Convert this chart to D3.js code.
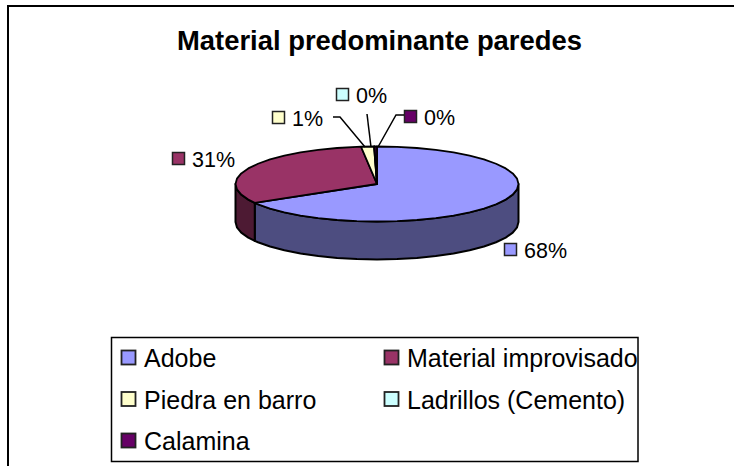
<!DOCTYPE html>
<html lang="en">
<head>
  <meta charset="utf-8">
  <title>Material predominante paredes</title>
  <script src="https://d3js.org/d3.v7.min.js"></script>
  <style>
    html, body { margin: 0; padding: 0; background: #fff; overflow: hidden; }
    text { font-family: "Liberation Sans", Arial, sans-serif; fill: #000; }
  </style>
</head>
<body>
  <script type="text/javascript">
  var categories = ["Adobe", "Material improvisado", "Piedra en barro", "Ladrillos (Cemento)", "Calamina"];
  // shares, the labels are what the chart prints
  var values = [66.6, 31.6, 1.47, 0.05, 0.28];
  var valueLabels = ["68%", "31%", "1%", "0%", "0%"];
  var colors = ["#9999ff", "#993366", "#ffffcc", "#ccffff", "#660066"];
  var darkColors = ["#4d4d80", "#4d1a33", "#808066", "#668080", "#330033"];
  var title = "Material predominante paredes";

  var w = 734;
  var h = 466;
  var svg = d3.select("body").append("svg")
    .attr("width", w)
    .attr("height", h);

  // outer frame, runs off the right and bottom of the picture
  svg.append("rect")
    .attr("x", 8).attr("y", 6)
    .attr("width", 760).attr("height", 500)
    .attr("fill", "#fff").attr("stroke", "#000").attr("stroke-width", 2);

  svg.append("text")
    .text(title)
    .attr("x", 379.5).attr("y", 50)
    .attr("text-anchor", "middle")
    .attr("font-size", "27.4px")
    .attr("font-weight", "bold");

  // flattened pie: clockwise from 12 o'clock, y squashed
  var cx = 377, cy = 184, rx = 141.5, ry = 37.5, depth = 38;
  var pieData = d3.pie().sort(null)(values);
  // step in the outline, the original is a low resolution polygon
  var step = Math.PI / 22;

  function pt(a, dy) {
    return [cx + rx * Math.sin(a), cy - ry * Math.cos(a) + (dy || 0)];
  }
  function arcPts(a0, a1, dy) {
    var pts = [pt(a0, dy)];
    var first = Math.ceil(a0 / step);
    for (var k = first; k * step < a1; k++) pts.push(pt(k * step, dy));
    pts.push(pt(a1, dy));
    return pts;
  }
  var line = d3.line();

  // side wall, only the front half of the ellipse shows
  pieData.forEach(function(d, i) {
    var a0 = Math.max(d.startAngle, Math.PI / 2);
    var a1 = Math.min(d.endAngle, Math.PI * 1.5);
    if (a1 <= a0) return;
    var top = arcPts(a0, a1, 0);
    var bottom = arcPts(a0, a1, depth).reverse();
    svg.append("path")
      .attr("d", line(top.concat(bottom)) + "Z")
      .attr("fill", darkColors[i])
      .attr("stroke", "#000").attr("stroke-width", 2)
      .attr("stroke-linejoin", "round");
  });

  // top faces
  pieData.forEach(function(d, i) {
    var pts = [[cx, cy]].concat(arcPts(d.startAngle, d.endAngle, 0));
    svg.append("path")
      .attr("d", line(pts) + "Z")
      .attr("fill", colors[i])
      .attr("stroke", "#000").attr("stroke-width", 1.8)
      .attr("stroke-linejoin", "round");
  });

  // data labels: key square + percent
  var labelPos = [[504.5, 243.5], [172.5, 152.5], [272.5, 111.5], [336.5, 88.5], [404.5, 110.5]];
  var dl = svg.selectAll("g.dl").data(valueLabels).enter().append("g")
    .attr("class", "dl")
    .attr("transform", function(d, i) { return "translate(" + labelPos[i] + ")"; });
  dl.append("rect")
    .attr("width", 12).attr("height", 12)
    .attr("fill", function(d, i) { return colors[i]; })
    .attr("stroke", "#222").attr("stroke-width", 1.5);
  dl.append("text")
    .text(function(d) { return d; })
    .attr("x", 19.5).attr("y", 14)
    .attr("font-size", "21.5px");

  // leader lines
  var leaders = [
    [[333, 117], [340, 117], [365, 147]],
    [[367, 114], [371, 147]],
    [[404, 115], [396, 115], [378, 147]]
  ];
  leaders.forEach(function(l) {
    svg.append("path")
      .attr("d", line(l))
      .attr("fill", "none")
      .attr("stroke", "#000").attr("stroke-width", 1.5);
  });

  // legend
  svg.append("rect")
    .attr("x", 111.5).attr("y", 337.5)
    .attr("width", 526.5).attr("height", 124)
    .attr("fill", "#fff").attr("stroke", "#000").attr("stroke-width", 1.5);

  var legendX = d3.scalePoint().domain([0, 1]).range([121, 384]);
  var legendY = d3.scalePoint().domain([0, 1, 2]).range([358, 441]);
  var lg = svg.selectAll("g.lg").data(categories).enter().append("g")
    .attr("class", "lg")
    .attr("transform", function(d, i) {
      return "translate(" + legendX(i % 2) + "," + legendY(Math.floor(i / 2)) + ")";
    });
  lg.append("rect")
    .attr("x", 0.5).attr("y", -7.5).attr("width", 14).attr("height", 14)
    .attr("fill", function(d, i) { return colors[i]; })
    .attr("stroke", "#222").attr("stroke-width", 1.8);
  lg.append("text")
    .text(function(d) { return d; })
    .attr("x", 23).attr("y", 9)
    .attr("font-size", "25px");
  </script>
</body>
</html>
